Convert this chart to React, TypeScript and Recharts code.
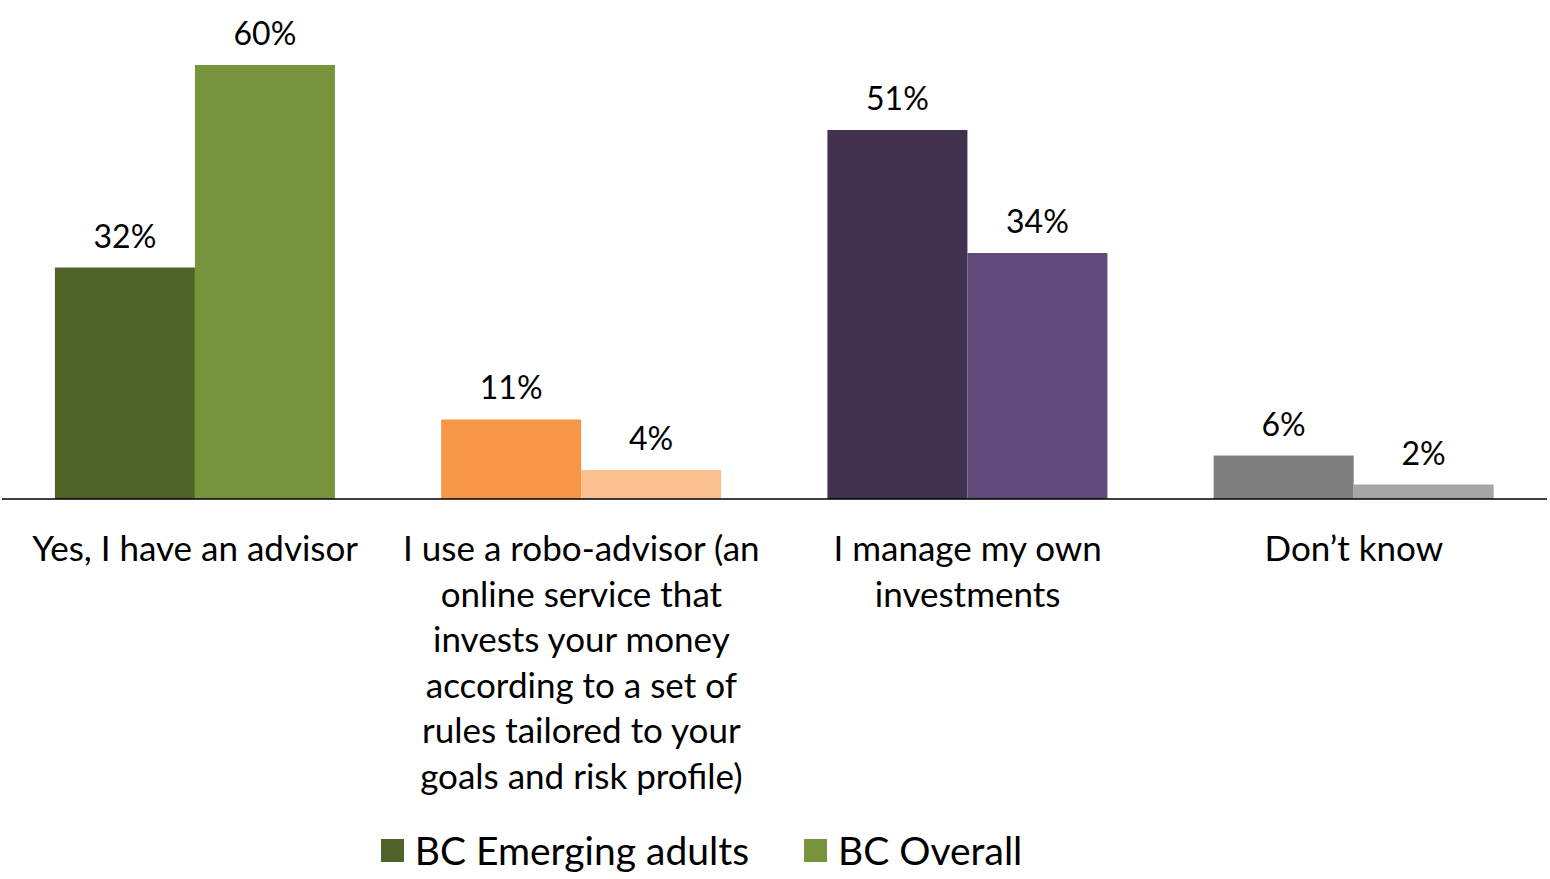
import { BarChart, Bar, XAxis, YAxis, Cell, LabelList, Legend } from 'recharts'

document.body.style.margin = '0'

const categories = [
  'Yes, I have an advisor',
  'I use a robo-advisor (an online service that invests your money according to a set of rules tailored to your goals and risk profile)',
  'I manage my own investments',
  'Don’t know',
]
const tickLines = [
  ['Yes, I have an advisor'],
  ['I use a robo-advisor (an', 'online service that', 'invests your money', 'according to a set of', 'rules tailored to your', 'goals and risk profile)'],
  ['I manage my own', 'investments'],
  ['Don’t know'],
]
const emergingAdults = [32, 11, 51, 6]
const overall = [60, 4, 34, 2]
const emergingColors = ['#4F6228', '#F79646', '#403151', '#7F7F7F']
const overallColors = ['#77933C', '#FAC090', '#604A7B', '#A6A6A6']

const FONT = 'Lato, "Open Sans", sans-serif'

const data = categories.map((name, i) => ({
  name,
  emerging: emergingAdults[i],
  overall: overall[i],
}))

function CategoryTick({ x, y, payload }: any) {
  const lines = tickLines[payload.index] || [payload.value]
  return (
    <text x={x} y={y} textAnchor="middle" fontFamily={FONT} fontSize={35} fill="#000">
      {lines.map((line, i) => (
        <tspan key={i} x={x} dy={i === 0 ? 54 : 45.5}>
          {line}
        </tspan>
      ))}
    </text>
  )
}

function LegendContent() {
  const items = [
    { label: 'BC Emerging adults', color: emergingColors[0] },
    { label: 'BC Overall', color: overallColors[0] },
  ]
  return (
    <div
      style={{
        display: 'flex',
        justifyContent: 'center',
        alignItems: 'center',
        height: 50,
        paddingRight: 146,
        fontFamily: FONT,
        fontSize: 39,
        color: '#000',
      }}
    >
      {items.map((it, i) => (
        <div key={i} style={{ display: 'flex', alignItems: 'center', marginRight: i === 0 ? 55 : 0 }}>
          <span style={{ display: 'inline-block', width: 23, height: 23, background: it.color, marginRight: 11 }} />
          <span>{it.label}</span>
        </div>
      ))}
    </div>
  )
}

export default function App() {
  return (
    <div style={{ width: 1550, height: 879, background: '#fff' }}>
      <BarChart
        width={1550}
        height={879}
        data={data}
        margin={{ top: 65, right: 3, left: 2, bottom: 4 }}
        barCategoryGap="13.7%"
        barGap={0}
      >
        <XAxis
          dataKey="name"
          axisLine={{ stroke: '#000', strokeWidth: 1.5 }}
          tickLine={false}
          interval={0}
          height={326}
          tick={<CategoryTick />}
        />
        <YAxis hide domain={[0, 60]} />
        <Legend verticalAlign="bottom" height={50} content={<LegendContent />} />
        <Bar dataKey="emerging" name="BC Emerging adults" fill={emergingColors[0]} isAnimationActive={false}>
          {data.map((_, i) => (
            <Cell key={i} fill={emergingColors[i]} />
          ))}
          <LabelList
            dataKey="emerging"
            position="top"
            offset={20}
            formatter={(v: any) => `${v}%`}
            style={{ fontFamily: FONT, fontSize: 32, fill: '#000' }}
          />
        </Bar>
        <Bar dataKey="overall" name="BC Overall" fill={overallColors[0]} isAnimationActive={false}>
          {data.map((_, i) => (
            <Cell key={i} fill={overallColors[i]} />
          ))}
          <LabelList
            dataKey="overall"
            position="top"
            offset={20}
            formatter={(v: any) => `${v}%`}
            style={{ fontFamily: FONT, fontSize: 32, fill: '#000' }}
          />
        </Bar>
      </BarChart>
    </div>
  )
}
